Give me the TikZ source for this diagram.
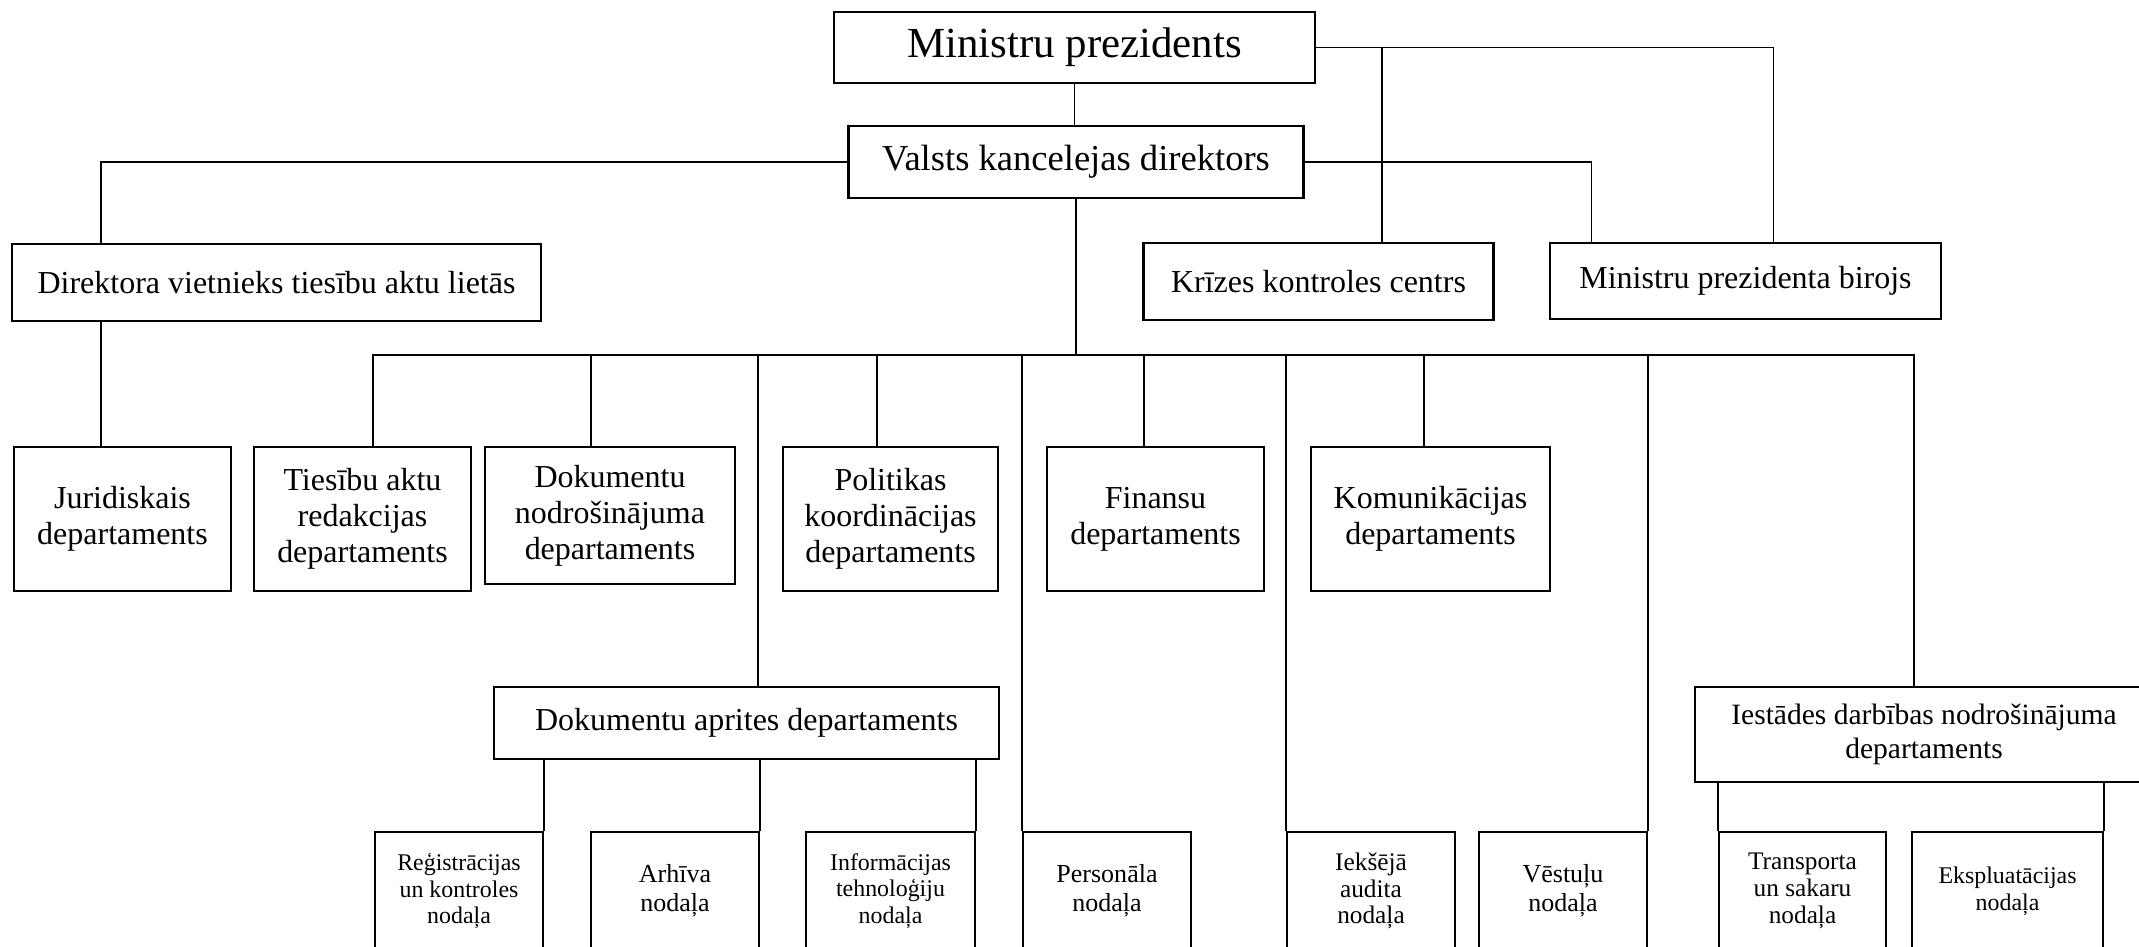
\documentclass[tikz,border=0pt]{standalone}
\usepackage{fontspec}
\setmainfont{Liberation Serif}
\usetikzlibrary{arrows}

\begin{document}
\begin{tikzpicture}[box/.style={draw, line width=0.6pt, align=center, inner sep=0pt, font=\fontsize{9.1}{10.25}\selectfont},
	unit/.style={box, anchor=north, minimum width=1.68cm, minimum height=1.18cm, font=\fontsize{7.4}{8.2}\selectfont},
	link/.style={line width=0.5pt}]
		%\draw [help lines] (0,0) grid (21,-9);
		\useasboundingbox (0,0) rectangle (21.39,-9.47);
		\clip (0,0) rectangle (21.39,-9.47);
		% top
		\node [box, minimum width=4.81cm, minimum height=0.71cm, font=\fontsize{12.2}{14}\selectfont] (mp) at (10.745,-0.475) {Ministru prezidents};
		\node [box, minimum width=4.55cm, minimum height=0.72cm, font=\fontsize{10.4}{12}\selectfont] (valsts) at (10.76,-1.62) {Valsts kancelejas direktors};
		\node [box, minimum width=5.29cm, minimum height=0.77cm] (dir) at (2.765,-2.825) {Direktora vietnieks tiesību aktu lietās};
		\node [box, minimum width=3.50cm, minimum height=0.77cm] (kriz) at (13.185,-2.815) {Krīzes kontroles centrs};
		\node [box, minimum width=3.91cm, minimum height=0.76cm] (biro) at (17.455,-2.81) {Ministru prezidenta birojs};
		% departamenti
		\node [box, minimum width=2.17cm, minimum height=1.44cm] (jur) at (1.225,-5.19) {Juridiskais\\departaments};
		\node [box, minimum width=2.17cm, minimum height=1.44cm] (ties) at (3.625,-5.19) {Tiesību aktu\\redakcijas\\departaments};
		\node [box, minimum width=2.50cm, minimum height=1.37cm] (dnod) at (6.10,-5.155) {Dokumentu\\nodrošinājuma\\departaments};
		\node [box, minimum width=2.15cm, minimum height=1.44cm] (pol) at (8.905,-5.19) {Politikas\\koordinācijas\\departaments};
		\node [box, minimum width=2.17cm, minimum height=1.44cm] (fin) at (11.555,-5.19) {Finansu\\departaments};
		\node [box, minimum width=2.39cm, minimum height=1.44cm] (kom) at (14.305,-5.19) {Komunikācijas\\departaments};
		\node [box, minimum width=5.05cm, minimum height=0.72cm] (dapr) at (7.465,-7.23) {Dokumentu aprites departaments};
		\node [box, minimum width=4.58cm, minimum height=0.95cm, font=\fontsize{8.4}{9.5}\selectfont] (iest) at (19.24,-7.345) {Iestādes darbības nodrošinājuma\\departaments};
		% nodalas
		\node [unit, font=\fontsize{6.8}{7.6}\selectfont] (reg) at (4.59,-8.31) {Reģistrācijas\\un kontroles\\nodaļa};
		\node [unit] (arh) at (6.75,-8.31) {Arhīva\\nodaļa};
		\node [unit, minimum width=1.69cm, font=\fontsize{6.8}{7.6}\selectfont] (inf) at (8.905,-8.31) {Informācijas\\tehnoloģiju\\nodaļa};
		\node [unit] (pers) at (11.07,-8.31) {Personāla\\nodaļa};
		\node [unit, font=\fontsize{7.2}{7.6}\selectfont] (iek) at (13.71,-8.31) {Iekšējā\\audita\\nodaļa};
		\node [unit] (vest) at (15.63,-8.31) {Vēstuļu\\nodaļa};
		\node [unit, minimum width=1.67cm, font=\fontsize{7.2}{7.6}\selectfont] (trans) at (18.025,-8.31) {Transporta\\un sakaru\\nodaļa};
		\node [unit, minimum width=1.91cm, font=\fontsize{6.8}{7.6}\selectfont] (eksp) at (20.075,-8.31) {Ekspluatācijas\\nodaļa};
		% savienojumi
		\draw [link] (mp.south) -- (mp.south |- valsts.north);
		\draw [link] (mp.east) -| ([xshift=2.8mm]biro.north);
		\draw [link] ([xshift=6.35mm]kriz.north) |- (mp.east);
		\draw [link] (valsts.east) -| ([xshift=-15.4mm]biro.north);
		\draw [link] (valsts.west) -| ([xshift=9mm]dir.north west);
		\draw [link] ([xshift=9mm]dir.south west) -- ([xshift=8.8mm]jur.north west);
		\coordinate (bus) at (10.76,-3.55);
		\draw [link] (valsts.south) -- (bus);
		\draw [link] ([xshift=1.05mm]ties.north) |- (bus);
		\draw [link] ([xshift=-1.9mm]dnod.north) |- (bus);
		\draw [link] ([xshift=1.15mm]dapr.north) |- (bus);
		\draw [link] ([xshift=-1.35mm]pol.north) |- (bus);
		\draw [link] (pers.north west) |- (bus);
		\draw [link] ([xshift=-1.15mm]fin.north) |- (bus);
		\draw [link] (iek.north west) |- (bus);
		\draw [link] ([xshift=-0.65mm]kom.north) |- (bus);
		\draw [link] (vest.north east) |- (bus);
		\draw [link] ([xshift=-1mm]iest.north) |- (bus);
		\draw [link] (reg.north east) -- (reg.north east |- dapr.south);
		\draw [link] (arh.north east) -- (arh.north east |- dapr.south);
		\draw [link] (inf.north east) -- (inf.north east |- dapr.south);
		\draw [link] (trans.north west) -- (trans.north west |- iest.south);
		\draw [link] (eksp.north east) -- (eksp.north east |- iest.south);
	\end{tikzpicture}
\end{document}
